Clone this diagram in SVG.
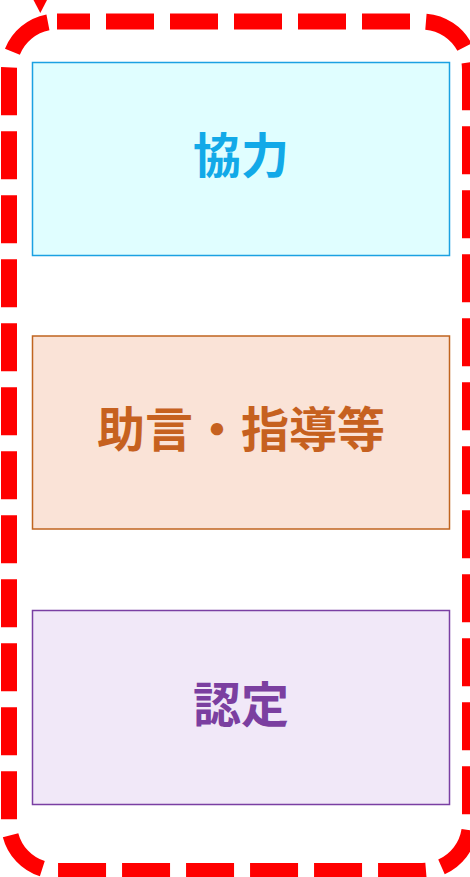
<svg xmlns="http://www.w3.org/2000/svg" width="470" height="877" viewBox="0 0 470 877">
  <style>
    .box { stroke-width: 1.5; }
    .lbl { font-family: "Noto Sans CJK JP", "Noto Sans", sans-serif; font-weight: bold; font-size: 48px; text-anchor: middle; dominant-baseline: central; }
    .frame { fill: none; stroke: #FF0000; stroke-width: 16; stroke-dasharray: 48 16; stroke-dashoffset: 15; }
  </style>
  <g id="connectors">
    <polygon points="33.5,0 47,0 40.3,13" fill="#FF0000"/>
  </g>
  <g id="group-frame">
    <rect class="frame" x="9" y="21.5" width="461" height="849.5" rx="48" ry="48"/>
  </g>
  <g id="node-kyoryoku">
    <rect class="box" x="32.5" y="62.5" width="417" height="193" fill="#E0FEFF" stroke="#1BA1E2"/>
    <text class="lbl" x="241" y="152" fill="#12A9E8">協力</text>
  </g>
  <g id="node-jogen">
    <rect class="box" x="32.5" y="336" width="417" height="193" fill="#FAE3D7" stroke="#C0641F"/>
    <text class="lbl" x="241" y="426" fill="#C6611F">助言・指導等</text>
  </g>
  <g id="node-nintei">
    <rect class="box" x="32.5" y="610.5" width="417" height="194" fill="#F1E8F8" stroke="#7A3FA3"/>
    <text class="lbl" x="241" y="701" fill="#7B3FA0">認定</text>
  </g>
</svg>
